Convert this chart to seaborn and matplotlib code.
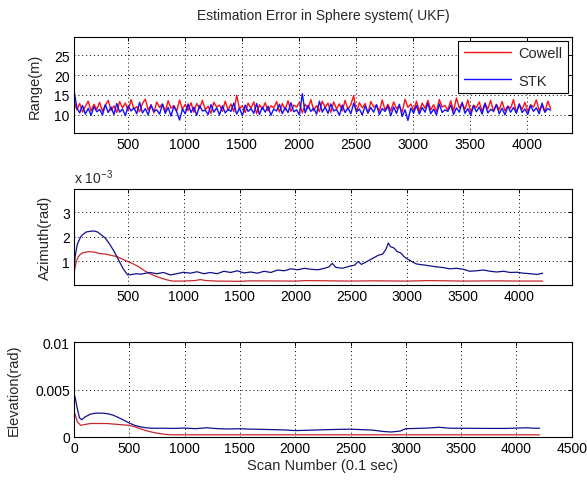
import numpy as np
import pandas as pd
import matplotlib
matplotlib.use("Agg")
import matplotlib.pyplot as plt
import seaborn as sns

# ---------------- data ----------------
range_scan = np.arange(30, 4206, 25)  # scan numbers of the sampled range errors
range_cowell = [
    13.5, 11.2, 12.8, 10.6, 12.1, 13.4, 10.9, 12.6, 11.3, 13.1, 10.8, 12.4,
    13.6, 11.0, 12.2, 10.5, 13.3, 11.7, 12.9, 10.9, 13.8, 11.4, 12.0, 10.7,
    12.8, 13.9, 11.1, 12.5, 10.4, 13.2, 11.8, 12.7, 10.8, 13.5, 11.6, 12.3,
    10.9, 13.7, 11.3, 12.6, 11.0, 13.0, 10.6, 12.8, 11.5, 13.6, 11.2, 12.1,
    10.3, 13.1, 11.9, 12.4, 10.8, 13.4, 11.1, 12.7, 10.7, 14.9, 11.4, 12.3,
    10.5, 12.9, 11.6, 13.2, 10.2, 12.5, 11.3, 13.0, 10.9, 12.2, 11.7, 13.3,
    10.6, 12.8, 11.2, 13.5, 10.8, 12.4, 11.9, 13.1, 10.4, 12.6, 11.5, 13.8,
    11.0, 12.3, 10.7, 13.4, 11.8, 12.9, 10.5, 13.2, 11.4, 12.7, 10.9, 13.6,
    11.3, 12.5, 14.8, 10.6, 13.0, 11.7, 12.8, 10.3, 13.3, 11.9, 12.4, 10.8,
    13.7, 11.1, 12.6, 10.9, 13.2, 11.5, 12.2, 10.6, 13.9, 11.8, 12.7, 11.0,
    13.4, 10.8, 12.9, 11.6, 13.6, 11.2, 12.5, 10.7, 13.8, 11.9, 12.3, 11.1,
    13.5, 10.9, 14.2, 11.7, 12.8, 11.3, 13.7, 10.6, 12.4, 11.8, 13.2, 10.8,
    12.9, 11.4, 13.6, 10.7, 12.6, 11.2, 13.3, 10.9, 12.1, 11.6, 13.8, 10.5,
    12.7, 11.3, 13.1, 10.8, 12.5, 11.9, 13.7, 11.0, 12.3, 10.6, 13.4, 11.5,
]
range_stk = [
    16.2, 11.8, 10.4, 12.3, 10.1, 11.6, 9.8, 12.0, 10.7, 11.3, 9.9, 12.5,
    10.5, 11.9, 10.0, 12.8, 10.6, 11.4, 9.7, 12.2, 10.9, 11.7, 10.2, 13.1,
    10.4, 11.5, 9.9, 12.4, 10.8, 11.2, 10.1, 12.6, 10.3, 11.8, 9.6, 12.1,
    10.7, 8.6, 11.4, 10.2, 12.7, 10.5, 11.9, 9.8, 12.3, 10.9, 11.1, 10.0,
    12.5, 10.6, 11.7, 9.9, 12.2, 10.4, 11.3, 10.8, 12.9, 10.1, 11.6, 9.7,
    12.4, 10.8, 11.5, 10.3, 12.8, 10.0, 11.9, 10.6, 12.1, 9.8, 11.4, 10.9,
    12.6, 10.2, 11.8, 10.5, 13.0, 10.7, 11.2, 9.9, 15.3, 10.4, 12.3, 10.8,
    11.6, 10.1, 13.4, 10.6, 11.9, 10.3, 12.7, 10.9, 11.3, 9.8, 12.4, 10.5,
    11.7, 10.2, 12.9, 10.7, 11.4, 9.9, 12.2, 10.4, 11.8, 10.6, 12.5, 10.0,
    11.5, 10.8, 12.1, 9.7, 11.9, 10.3, 12.6, 9.5, 11.2, 8.5, 11.6, 10.4,
    12.3, 10.1, 11.8, 10.6, 12.9, 10.2, 11.4, 9.9, 12.7, 10.5, 11.2, 10.8,
    12.4, 10.0, 11.7, 10.6, 13.1, 10.3, 11.5, 9.8, 12.2, 10.7, 11.9, 10.1,
    12.8, 10.4, 11.3, 10.9, 12.5, 10.2, 11.6, 9.9, 12.1, 10.6, 11.8, 10.3,
    12.6, 10.5, 11.4, 10.0, 12.3, 10.8, 11.7, 10.2, 12.9, 10.6, 11.5, 11.1,
]

az_cowell_scan = [20, 40, 60, 80, 100, 150, 200, 250, 300, 350,
                  400, 450, 500, 550, 600, 650, 700, 750, 800, 850,
                  900, 950, 1000, 1100, 1150, 1200, 1300, 1500, 1600, 2000,
                  2100, 2500, 2700, 3000, 3200, 3500, 3800, 4000, 4210]
az_cowell = [0.5, 1.0, 1.2, 1.3, 1.35, 1.4, 1.38, 1.32, 1.3, 1.25,
             1.2, 1.1, 1.0, 0.9, 0.78, 0.62, 0.5, 0.4, 0.32, 0.25,
             0.2, 0.2, 0.2, 0.22, 0.26, 0.22, 0.2, 0.19, 0.21, 0.2,
             0.22, 0.2, 0.21, 0.2, 0.22, 0.2, 0.21, 0.2, 0.2]  # x 1e-3 rad

az_stk_scan = [20, 30, 50, 80, 100, 130, 170, 200, 230, 260,
               300, 340, 380, 420, 460, 500, 540, 580, 620, 660,
               700, 760, 820, 880, 940, 1000, 1060, 1120, 1180, 1240,
               1300, 1360, 1420, 1480, 1540, 1600, 1660, 1720, 1780, 1840,
               1900, 1960, 2020, 2080, 2140, 2200, 2260, 2300, 2330, 2360,
               2420, 2480, 2530, 2560, 2590, 2620, 2660, 2700, 2740, 2780,
               2810, 2830, 2850, 2880, 2910, 2940, 2970, 3000, 3040, 3080,
               3120, 3160, 3200, 3260, 3320, 3380, 3440, 3500, 3560, 3620,
               3680, 3740, 3800, 3860, 3920, 3980, 4040, 4100, 4160, 4210]
az_stk = [0.6, 1.2, 1.7, 2.0, 2.1, 2.2, 2.23, 2.24, 2.2, 2.1,
          1.95, 1.7, 1.4, 1.05, 0.7, 0.45, 0.47, 0.5, 0.48, 0.52,
          0.55, 0.5, 0.55, 0.45, 0.5, 0.56, 0.52, 0.58, 0.5, 0.55,
          0.5, 0.6, 0.55, 0.62, 0.53, 0.57, 0.52, 0.6, 0.55, 0.65,
          0.62, 0.7, 0.66, 0.72, 0.68, 0.66, 0.72, 0.78, 0.92, 0.76,
          0.72, 0.8, 0.85, 1.0, 0.88, 0.95, 1.05, 1.15, 1.25, 1.3,
          1.5, 1.75, 1.6, 1.55, 1.4, 1.35, 1.2, 1.1, 1.0, 0.9,
          0.87, 0.85, 0.82, 0.78, 0.75, 0.7, 0.72, 0.68, 0.6, 0.62,
          0.65, 0.6, 0.57, 0.6, 0.55, 0.56, 0.52, 0.5, 0.47, 0.52]  # x 1e-3 rad

el_cowell_scan = [0, 10, 30, 60, 100, 150, 200, 300, 400, 500, 550,
                  600, 650, 700, 750, 800, 850, 900, 1000, 2000, 3000, 4210]
el_cowell = [2.7, 2.4, 1.6, 1.2, 1.3, 1.4, 1.4, 1.4, 1.3, 1.2, 1.05,
             0.85, 0.65, 0.5, 0.38, 0.28, 0.22, 0.2, 0.2, 0.2, 0.2, 0.2]  # x 1e-3 rad

el_stk_scan = [0, 10, 30, 50, 70, 100, 150, 200, 250, 300,
               350, 400, 450, 500, 550, 600, 650, 700, 800, 900,
               1000, 1100, 1200, 1300, 1400, 1500, 1600, 1700, 1800, 1900,
               2000, 2100, 2200, 2300, 2400, 2500, 2600, 2700, 2800, 2870,
               2950, 3000, 3100, 3200, 3300, 3400, 3500, 3700, 3900, 4100,
               4150, 4210]
el_stk = [4.5, 4.2, 3.0, 2.0, 1.8, 2.1, 2.4, 2.5, 2.5, 2.45,
          2.3, 2.05, 1.75, 1.45, 1.2, 1.05, 0.95, 0.9, 0.9, 0.88,
          0.92, 0.85, 0.95, 0.85, 0.82, 0.85, 0.8, 0.78, 0.75, 0.72,
          0.65, 0.68, 0.72, 0.75, 0.78, 0.8, 0.75, 0.7, 0.55, 0.5,
          0.6, 0.85, 0.88, 0.92, 1.0, 0.9, 0.9, 0.88, 0.88, 0.95,
          0.9, 0.9]  # x 1e-3 rad

series_labels = ["Cowell", "STK"]
range_yticks = [10, 15, 20, 25]
az_yticks = [1, 2, 3]
el_yticks = [0, 0.005, 0.01]
el_yticklabels = ["0", "0.005", "0.01"]
x_ticks_top = [500, 1000, 1500, 2000, 2500, 3000, 3500, 4000]
x_ticks_bottom = [0, 500, 1000, 1500, 2000, 2500, 3000, 3500, 4000, 4500]

# ---------------- style ----------------
sns.set_style("white")
plt.rcParams["font.family"] = ["Liberation Sans", "DejaVu Sans"]
plt.rcParams["mathtext.fontset"] = "custom"
plt.rcParams["mathtext.rm"] = "Liberation Sans"

RED_TOP, BLUE_TOP = "#ff1010", "#1010ff"
RED, BLUE = "#c8282a", "#10108c"

fig = plt.figure(figsize=(5.87, 4.81), dpi=100)
ax1 = fig.add_axes([0.126, 0.7214, 0.848, 0.1996])
ax2 = fig.add_axes([0.126, 0.4054, 0.848, 0.1996])
ax3 = fig.add_axes([0.126, 0.0900, 0.848, 0.1960])

df_r = pd.DataFrame({"scan": list(range_scan) * 2,
                     "err": range_cowell + range_stk,
                     "model": [series_labels[0]] * len(range_cowell) + [series_labels[1]] * len(range_stk)})
df_a = pd.DataFrame({"scan": az_cowell_scan + az_stk_scan,
                     "err": az_cowell + az_stk,
                     "model": [series_labels[0]] * len(az_cowell) + [series_labels[1]] * len(az_stk)})
df_e = pd.DataFrame({"scan": el_cowell_scan + el_stk_scan,
                     "err": [v * 1e-3 for v in el_cowell + el_stk],
                     "model": [series_labels[0]] * len(el_cowell) + [series_labels[1]] * len(el_stk)})

sns.lineplot(data=df_r, x="scan", y="err", hue="model", palette=[RED_TOP, BLUE_TOP],
             estimator=None, sort=False, linewidth=1.0, ax=ax1)
sns.lineplot(data=df_a, x="scan", y="err", hue="model", palette=[RED, BLUE],
             estimator=None, sort=False, linewidth=0.9, ax=ax2, legend=False)
sns.lineplot(data=df_e, x="scan", y="err", hue="model", palette=[RED, BLUE],
             estimator=None, sort=False, linewidth=0.9, ax=ax3, legend=False)

for ax in (ax1, ax2, ax3):
    ax.grid(True, linestyle=(0, (1, 3)), color="black", linewidth=0.7)
    for s in ax.spines.values():
        s.set_color("black")
        s.set_linewidth(0.8)
    ax.tick_params(direction="in", length=3, width=0.7, top=True, right=True,
                   labelsize=10, colors="black", pad=3)
    ax.set_xlabel("")

ax1.set_xlim(30, 4390)
ax1.set_ylim(5.3, 29.7)
ax1.set_xticks(x_ticks_top)
ax1.set_yticks(range_yticks)
ax1.set_ylabel("Range(m)", fontsize=10.5, labelpad=9)
ax1.set_title("Estimation Error in Sphere system( UKF)", fontsize=10, pad=13)
leg = ax1.legend(loc="upper right", frameon=True, fancybox=False, edgecolor="black",
                 framealpha=1, fontsize=10.5, handlelength=3.2, labelspacing=0.9,
                 borderaxespad=0.25, borderpad=0.4, handletextpad=0.5)
leg.get_frame().set_linewidth(0.8)
for line in leg.get_lines():
    line.set_linewidth(1.0)

ax2.set_xlim(20, 4470)
ax2.set_ylim(0.04, 3.95)
ax2.set_xticks(x_ticks_top)
ax2.set_yticks(az_yticks)
ax2.set_ylabel("Azimuth(rad)", fontsize=10.5, labelpad=7)
ax2.text(0.0, 1.03, r"x 10$^{-3}$", transform=ax2.transAxes, fontsize=10, va="bottom", ha="left")

ax3.set_xlim(0, 4500)
ax3.set_ylim(0, 0.01)
ax3.set_xticks(x_ticks_bottom)
ax3.set_yticks(el_yticks)
ax3.set_yticklabels(el_yticklabels)
ax3.set_ylabel("Elevation(rad)", fontsize=10.5, labelpad=10)
ax3.set_xlabel("Scan Number (0.1 sec)", fontsize=10.5, labelpad=2)

fig.savefig("out.png", dpi=100)
